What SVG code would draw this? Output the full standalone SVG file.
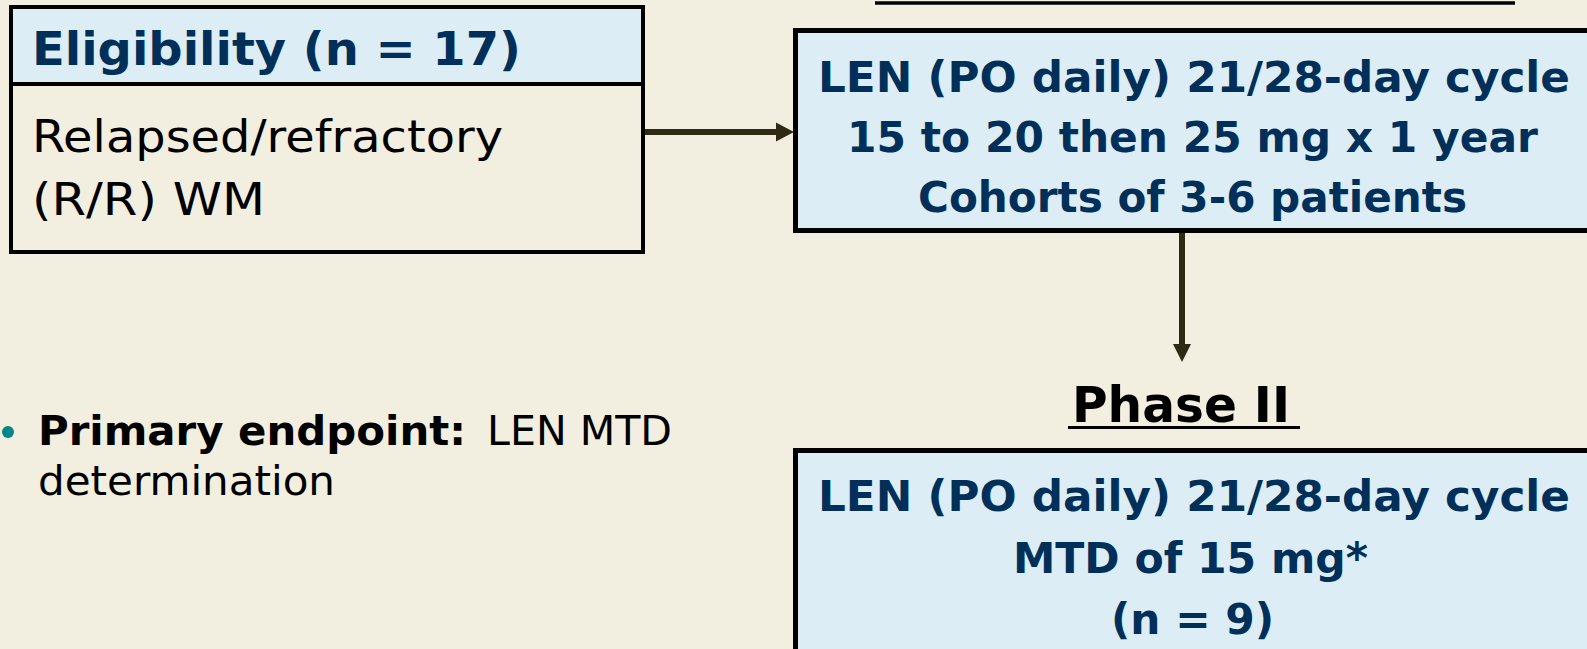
<svg xmlns="http://www.w3.org/2000/svg" width="1587" height="649" viewBox="0 0 1587 649">
<defs>
<style>
.bg{fill:#F2EEE0}
.box{fill:#DDEDF5;stroke:#000;stroke-width:5}
.plain{fill:none;stroke:#000;stroke-width:4}
.hdr{font-family:"DejaVu Sans","Verdana",sans-serif;font-weight:bold;fill:#00305A}
.bt{font-family:"DejaVu Sans","Verdana",sans-serif;font-weight:bold;fill:#00305A;font-size:42px;text-anchor:middle}
.body{font-family:"DejaVu Sans","Verdana",sans-serif;fill:#000}
.conn{stroke:#2E2A14;stroke-width:6;fill:none}
.head{fill:#2E2A14}
</style>
</defs>
<rect class="bg" x="0" y="0" width="1587" height="649"/>

<!-- top underline of cut-off title -->
<line x1="875" y1="3" x2="1515" y2="3" stroke="#000" stroke-width="3.5"/>

<g id="eligibility">
<rect x="11" y="7" width="632" height="77" fill="#DDEDF5"/>
<rect class="plain" x="11" y="7" width="632" height="245"/>
<line x1="11" y1="84" x2="643" y2="84" stroke="#000" stroke-width="4"/>
<text class="hdr" x="32" y="65" font-size="46" textLength="489" lengthAdjust="spacingAndGlyphs">Eligibility (n = 17)</text>
<text class="body" x="32" y="152" font-size="44" textLength="471" lengthAdjust="spacingAndGlyphs">Relapsed/refractory</text>
<text class="body" x="32" y="215" font-size="44" textLength="233" lengthAdjust="spacingAndGlyphs">(R/R) WM</text>
</g>

<g id="phase1-box">
<rect class="box" x="795.5" y="30.5" width="820" height="200"/>
<text class="bt" x="1194" y="92" textLength="752" lengthAdjust="spacingAndGlyphs">LEN (PO daily) 21/28-day cycle</text>
<text class="bt" x="1192.5" y="152" textLength="691" lengthAdjust="spacingAndGlyphs">15 to 20 then 25 mg x 1 year</text>
<text class="bt" x="1192.5" y="212" textLength="549" lengthAdjust="spacingAndGlyphs">Cohorts of 3-6 patients</text>
</g>

<g id="phase2-title">
<text x="1072" y="422" font-family="DejaVu Sans, Verdana, sans-serif" font-weight="bold" font-size="49" fill="#000" textLength="218" lengthAdjust="spacingAndGlyphs">Phase II</text>
<line x1="1068" y1="427.5" x2="1300" y2="427.5" stroke="#000" stroke-width="3"/>
</g>

<g id="phase2-box">
<rect class="box" x="795.5" y="450.5" width="820" height="240"/>
<text class="bt" x="1194" y="511" textLength="752" lengthAdjust="spacingAndGlyphs">LEN (PO daily) 21/28-day cycle</text>
<text class="bt" x="1190.5" y="573" textLength="355" lengthAdjust="spacingAndGlyphs">MTD of 15 mg*</text>
<text class="bt" x="1192.5" y="634" textLength="163" lengthAdjust="spacingAndGlyphs">(n = 9)</text>
</g>

<g id="endpoint">
<circle cx="8" cy="432" r="6" fill="#00868B"/>
<text class="body" x="38" y="445" font-size="41" font-weight="bold" textLength="428" lengthAdjust="spacingAndGlyphs">Primary endpoint:</text>
<text class="body" x="487" y="445" font-size="41" textLength="185" lengthAdjust="spacingAndGlyphs">LEN MTD</text>
<text class="body" x="38" y="495" font-size="41" textLength="297" lengthAdjust="spacingAndGlyphs">determination</text>
</g>

<g id="connectors">
<line class="conn" x1="645" y1="132" x2="777" y2="132"/>
<path class="head" d="M776,122.5 L794,132 L776,141.5 z"/>
<line class="conn" x1="1182" y1="233" x2="1182" y2="345"/>
<path class="head" d="M1173,344 L1182,362 L1191,344 z"/>
</g>
</svg>
